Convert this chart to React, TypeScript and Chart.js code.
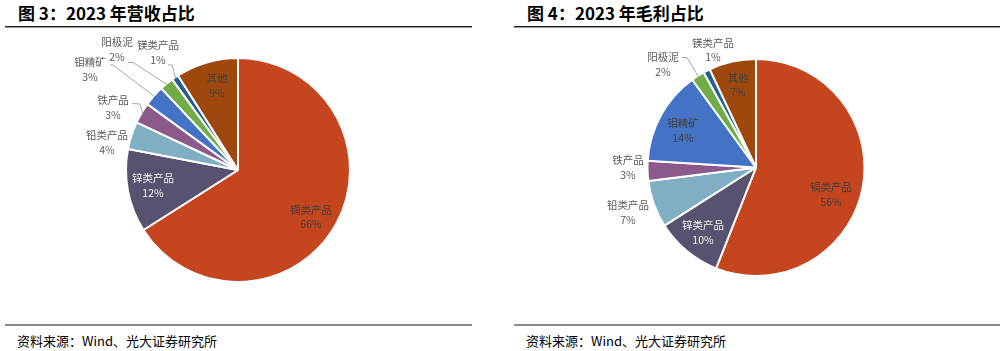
import React, { useEffect, useRef } from "react";
import { Chart, registerables } from "chart.js";

Chart.register(...registerables);

// ---- data ----
const categories = ["铜类产品", "锌类产品", "铅类产品", "铁产品", "钼精矿", "阳极泥", "镁类产品", "其他"];
const revenueShare = [66, 12, 4, 3, 3, 2, 1, 9];
const grossProfitShare = [56, 10, 7, 3, 14, 2, 1, 7];

// ---- styles ----
const sliceColors = ["#C5451F", "#575270", "#80AFC4", "#8B5A8B", "#4472C4", "#70AD47", "#255E91", "#9E480E"];

type LabelLayout = { dx: number; dy: number; color: string; leader?: number[] };

const OUT = "#595959";
const DARK = "#404040";
const LIGHT = "#F2F2F2";

// label positions relative to pie centre (px)
const revenueLabelLayout: LabelLayout[] = [
  { dx: 73, dy: 47, color: DARK },
  { dx: -85, dy: 15.5, color: LIGHT },
  { dx: -131, dy: -27.5, color: OUT },
  { dx: -125, dy: -62.5, color: OUT, leader: [-106, -66.5, -98, -66] },
  { dx: -148, dy: -100.5, color: OUT, leader: [-128, -105, -125, -105] },
  { dx: -121, dy: -120.5, color: OUT, leader: [-110, -107.5, -105, -107.5] },
  { dx: -80, dy: -117.5, color: OUT, leader: [-70, -105, -66, -105] },
  { dx: -21, dy: -84.5, color: DARK },
];

const profitLabelLayout: LabelLayout[] = [
  { dx: 75, dy: 27, color: DARK },
  { dx: -53, dy: 65, color: LIGHT },
  { dx: -128, dy: 45, color: OUT },
  { dx: -128, dy: 0, color: OUT },
  { dx: -73, dy: -37, color: DARK },
  { dx: -93, dy: -103, color: OUT, leader: [-74, -110, -69, -110] },
  { dx: -43, dy: -117.5, color: OUT },
  { dx: -18, dy: -82.5, color: DARK },
];

const FONT_FAMILY = '"Noto Sans CJK SC", "Noto Sans", sans-serif';

function makeLabelPlugin(layout: LabelLayout[]) {
  return {
    id: "pieLabels",
    afterDatasetsDraw(chart: any) {
      const meta = chart.getDatasetMeta(0);
      const ctx = chart.ctx as CanvasRenderingContext2D;
      const values = chart.data.datasets[0].data as number[];
      const labels = chart.data.labels as string[];
      ctx.save();
      meta.data.forEach((arc: any, i: number) => {
        const { x, y, startAngle, endAngle, outerRadius } = arc.getProps(
          ["x", "y", "startAngle", "endAngle", "outerRadius"],
          true
        );
        const mid = (startAngle + endAngle) / 2;
        const L = layout[i];
        if (L.leader) {
          const er = outerRadius - 1.5;
          const ex = x + Math.cos(mid) * er;
          const ey = y + Math.sin(mid) * er;
          ctx.beginPath();
          ctx.moveTo(x + L.leader[0], y + L.leader[1]);
          ctx.lineTo(x + L.leader[2], y + L.leader[3]);
          ctx.lineTo(ex, ey);
          ctx.strokeStyle = "#A6A6A6";
          ctx.lineWidth = 1;
          ctx.stroke();
        }
        const lx = x + L.dx;
        const ly = y + L.dy;
        ctx.fillStyle = L.color;
        ctx.font = `10.5px ${FONT_FAMILY}`;
        ctx.textAlign = "center";
        ctx.textBaseline = "middle";
        ctx.fillText(labels[i], lx, ly - 7.2);
        ctx.fillText(`${values[i]}%`, lx, ly + 7.2);
      });
      ctx.restore();
    },
  };
}

function PieChart(props: {
  values: number[];
  layout: LabelLayout[];
  radius: number;
  width: number;
  height: number;
  left: number;
  top: number;
}) {
  const ref = useRef<HTMLCanvasElement | null>(null);
  useEffect(() => {
    if (!ref.current) return;
    const chart = new Chart(ref.current, {
      type: "pie",
      data: {
        labels: categories,
        datasets: [
          {
            data: props.values,
            backgroundColor: sliceColors,
            borderColor: "#FFFFFF",
            borderWidth: 2,
          },
        ],
      },
      options: {
        responsive: false,
        animation: false,
        radius: props.radius,
        layout: { padding: 0 },
        plugins: {
          legend: { display: false },
          tooltip: { enabled: false },
        },
      } as any,
      plugins: [makeLabelPlugin(props.layout)],
    });
    return () => chart.destroy();
  }, []);
  return (
    <canvas
      ref={ref}
      width={props.width}
      height={props.height}
      style={{ position: "absolute", left: props.left, top: props.top, width: props.width, height: props.height }}
    />
  );
}

function Panel(props: { x: number; lineW: number; title: string }) {
  return (
    <>
      <div
        style={{
          position: "absolute",
          left: props.x + 13,
          top: 1,
          fontFamily: FONT_FAMILY,
          fontWeight: 700,
          fontSize: 17,
          lineHeight: "24px",
          color: "#000",
          whiteSpace: "nowrap",
        }}
      >
        {props.title}
      </div>
      <div style={{ position: "absolute", left: props.x, top: 26, width: props.lineW, height: 1, background: "#222" }} />
      <div style={{ position: "absolute", left: props.x, top: 27, width: props.lineW, height: 1, background: "#9a9a9a" }} />
      <div style={{ position: "absolute", left: props.x, top: 324, width: props.lineW, height: 2, background: "#8a8a8a" }} />
      <div
        style={{
          position: "absolute",
          left: props.x + 12,
          top: 332,
          fontFamily: FONT_FAMILY,
          fontSize: 13,
          lineHeight: "18px",
          color: "#000",
          whiteSpace: "nowrap",
        }}
      >
        资料来源：Wind、光大证券研究所
      </div>
    </>
  );
}

export default function App() {
  return (
    <div
      style={{
        position: "fixed",
        left: 0,
        top: 0,
        width: 1005,
        height: 351,
        background: "#fff",
        overflow: "hidden",
      }}
    >
      <Panel x={5} lineW={467} title="图 3：2023 年营收占比" />
      <Panel x={514} lineW={486} title="图 4：2023 年毛利占比" />
      <PieChart values={revenueShare} layout={revenueLabelLayout} radius={112} width={476} height={280} left={0} top={30} />
      <PieChart values={grossProfitShare} layout={profitLabelLayout} radius={108.5} width={484} height={275} left={514} top={30} />
    </div>
  );
}
